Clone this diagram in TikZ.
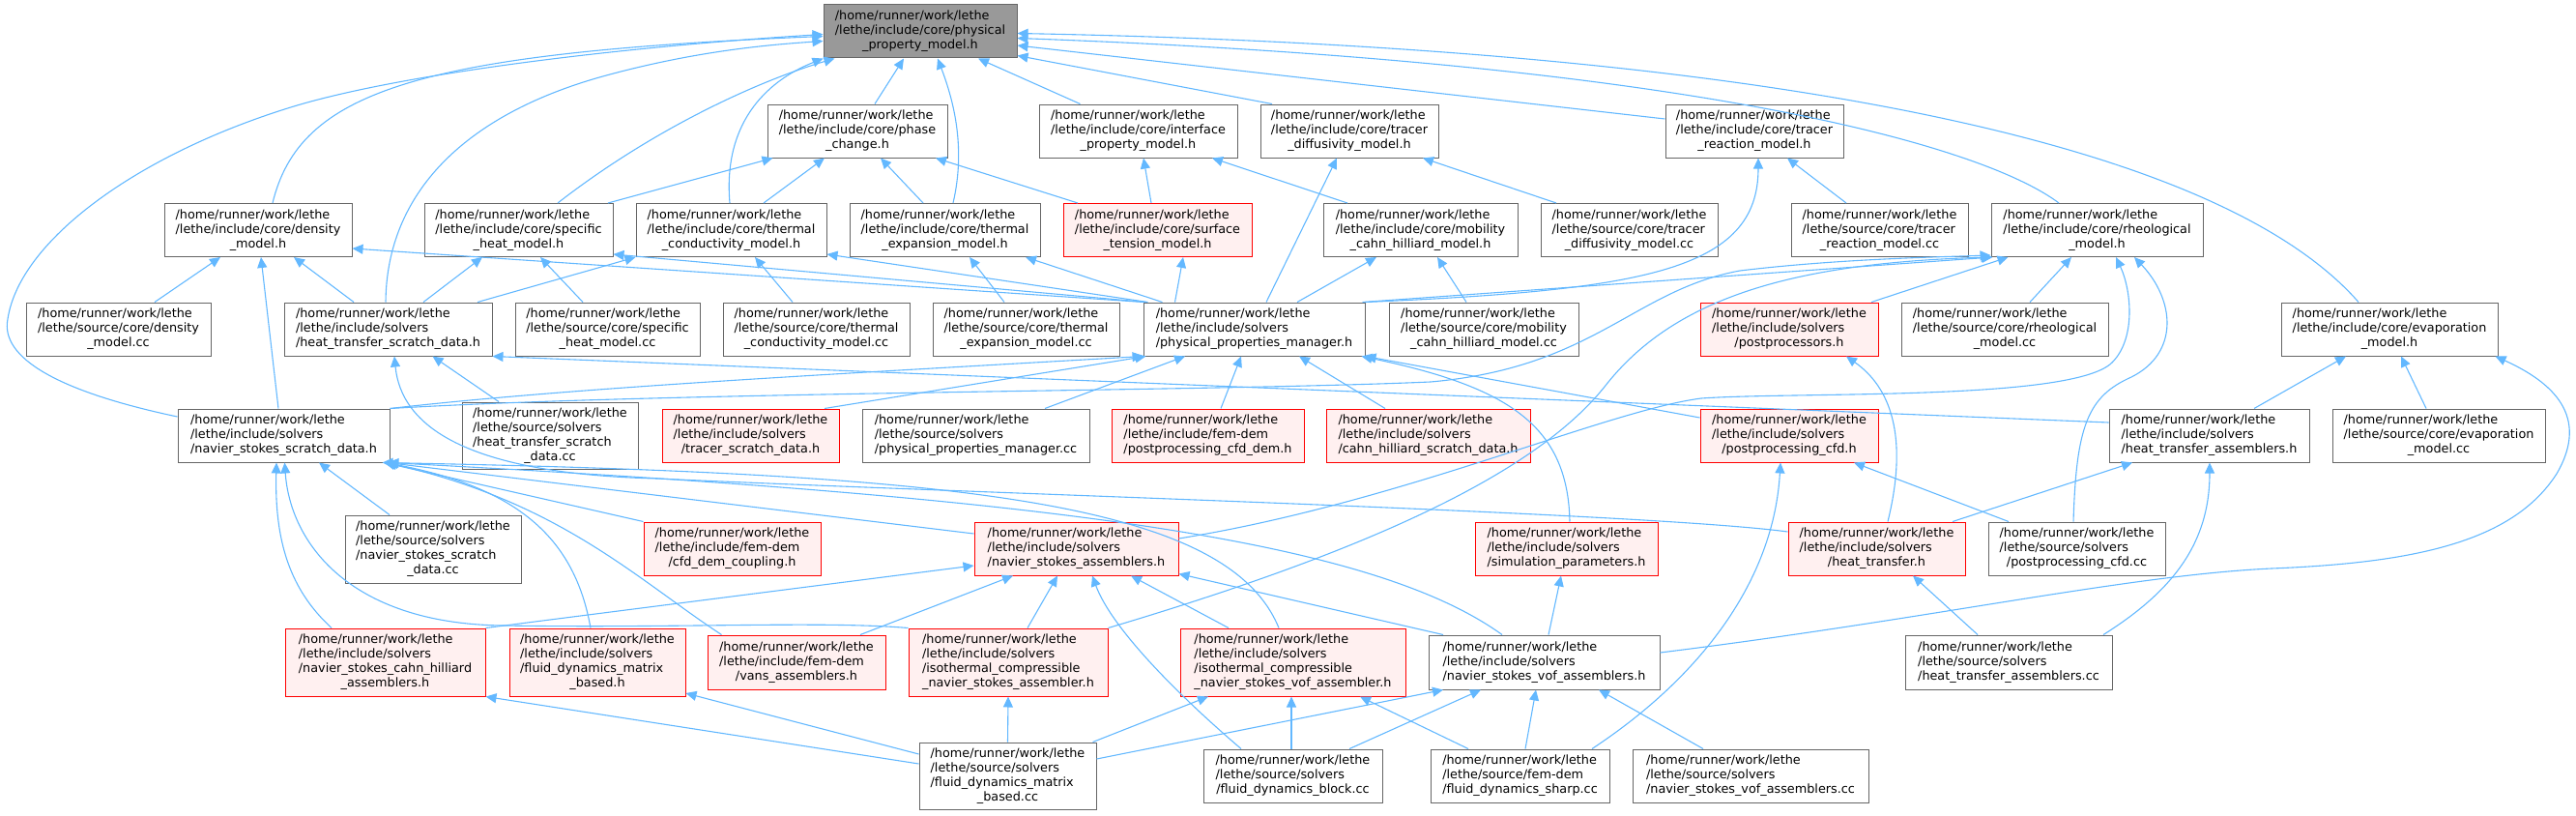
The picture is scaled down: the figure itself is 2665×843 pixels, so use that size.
\documentclass[tikz,border=0pt]{standalone}
\usepackage{fontspec}
\setmainfont{DejaVu Sans}
\usetikzlibrary{arrows.meta}

\definecolor{edgeblue}{HTML}{63B8FF}
\definecolor{boxgray}{HTML}{666666}
\definecolor{boxred}{HTML}{FF0000}
\definecolor{redfill}{HTML}{FFF0F0}
\definecolor{rootgray}{HTML}{999999}

\newcommand{\boxfont}{\fontsize{12.8}{15}\selectfont}
\newcommand{\fpath}[2]{\begin{tabular}{@{}l@{}}#1\\\multicolumn{1}{@{}c@{}}{#2}\end{tabular}}

\tikzset{
  file/.style={draw=boxgray, line width=1pt, fill=white, inner sep=0pt, font=\boxfont},
  redfile/.style={file, draw=boxred, fill=redfill},
  rootfile/.style={file, fill=rootgray},
  sz/.style 2 args={minimum width=#1, minimum height=#2},
  inc/.style={draw=edgeblue, line width=1.1pt, -{Triangle[length=11pt,width=10pt]}},
}

\begin{document}
\begin{tikzpicture}[x=1pt,y=-1pt]
\useasboundingbox (0,0) rectangle (2665,843);

\node[rootfile, sz={200}{55}] (root) at (952,32.5) {\fpath{/home/runner/work/lethe\\/lethe/include/core/physical}{\_property\_model.h}};

\node[file, sz={186}{55}] (pc) at (887,135.5) {\fpath{/home/runner/work/lethe\\/lethe/include/core/phase}{\_change.h}};
\node[file, sz={205}{55}] (ipm) at (1177.5,135.5) {\fpath{/home/runner/work/lethe\\/lethe/include/core/interface}{\_property\_model.h}};
\node[file, sz={184}{55}] (tdm) at (1396,135.5) {\fpath{/home/runner/work/lethe\\/lethe/include/core/tracer}{\_diffusivity\_model.h}};
\node[file, sz={184}{55}] (trm) at (1815,135.5) {\fpath{/home/runner/work/lethe\\/lethe/include/core/tracer}{\_reaction\_model.h}};

\node[file, sz={194}{55}] (dm) at (267,238) {\fpath{/home/runner/work/lethe\\/lethe/include/core/density}{\_model.h}};
\node[file, sz={195}{55}] (shm) at (536.5,238) {\fpath{/home/runner/work/lethe\\/lethe/include/core/specific}{\_heat\_model.h}};
\node[file, sz={197}{55}] (tcm) at (756.5,238) {\fpath{/home/runner/work/lethe\\/lethe/include/core/thermal}{\_conductivity\_model.h}};
\node[file, sz={197}{55}] (tem) at (977.5,238) {\fpath{/home/runner/work/lethe\\/lethe/include/core/thermal}{\_expansion\_model.h}};
\node[redfile, sz={195}{55}] (stm) at (1197.5,238) {\fpath{/home/runner/work/lethe\\/lethe/include/core/surface}{\_tension\_model.h}};
\node[file, sz={201}{55}] (mchm) at (1469.5,238) {\fpath{/home/runner/work/lethe\\/lethe/include/core/mobility}{\_cahn\_hilliard\_model.h}};
\node[file, sz={183}{55}] (tdmcc) at (1685.5,238) {\fpath{/home/runner/work/lethe\\/lethe/source/core/tracer}{\_diffusivity\_model.cc}};
\node[file, sz={183}{55}] (trmcc) at (1944.5,238) {\fpath{/home/runner/work/lethe\\/lethe/source/core/tracer}{\_reaction\_model.cc}};
\node[file, sz={219}{55}] (rm) at (2169.5,238) {\fpath{/home/runner/work/lethe\\/lethe/include/core/rheological}{\_model.h}};

\node[file, sz={191}{55}] (dmcc) at (122.5,340.5) {\fpath{/home/runner/work/lethe\\/lethe/source/core/density}{\_model.cc}};
\node[file, sz={215}{55}] (htsd) at (401.5,340.5) {\fpath{/home/runner/work/lethe\\/lethe/include/solvers}{/heat\_transfer\_scratch\_data.h}};
\node[file, sz={191}{55}] (shmcc) at (628.5,340.5) {\fpath{/home/runner/work/lethe\\/lethe/source/core/specific}{\_heat\_model.cc}};
\node[file, sz={193}{55}] (tcmcc) at (844.5,340.5) {\fpath{/home/runner/work/lethe\\/lethe/source/core/thermal}{\_conductivity\_model.cc}};
\node[file, sz={193}{55}] (temcc) at (1061.5,340.5) {\fpath{/home/runner/work/lethe\\/lethe/source/core/thermal}{\_expansion\_model.cc}};
\node[file, sz={229}{55}] (ppm) at (1297.5,340.5) {\fpath{/home/runner/work/lethe\\/lethe/include/solvers}{/physical\_properties\_manager.h}};
\node[file, sz={196}{55}] (mchmcc) at (1535,340.5) {\fpath{/home/runner/work/lethe\\/lethe/source/core/mobility}{\_cahn\_hilliard\_model.cc}};
\node[redfile, sz={184}{55}] (pps) at (1851,340.5) {\fpath{/home/runner/work/lethe\\/lethe/include/solvers}{/postprocessors.h}};
\node[file, sz={214}{55}] (rmcc) at (2074,340.5) {\fpath{/home/runner/work/lethe\\/lethe/source/core/rheological}{\_model.cc}};
\node[file, sz={224}{55}] (em) at (2472,340.5) {\fpath{/home/runner/work/lethe\\/lethe/include/core/evaporation}{\_model.h}};

\node[file, sz={219}{55}] (nssd) at (293.5,450.5) {\fpath{/home/runner/work/lethe\\/lethe/include/solvers}{/navier\_stokes\_scratch\_data.h}};
\node[file, sz={182}{69}] (htsdcc) at (569,450.5) {\fpath{/home/runner/work/lethe\\/lethe/source/solvers\\/heat\_transfer\_scratch}{\_data.cc}};
\node[redfile, sz={183}{55}] (tsd) at (776.5,450.5) {\fpath{/home/runner/work/lethe\\/lethe/include/solvers}{/tracer\_scratch\_data.h}};
\node[file, sz={235}{55}] (ppmcc) at (1009.5,450.5) {\fpath{/home/runner/work/lethe\\/lethe/source/solvers}{/physical\_properties\_manager.cc}};
\node[redfile, sz={199}{55}] (pcd) at (1249.5,450.5) {\fpath{/home/runner/work/lethe\\/lethe/include/fem-dem}{/postprocessing\_cfd\_dem.h}};
\node[redfile, sz={211}{55}] (chsd) at (1477.5,450.5) {\fpath{/home/runner/work/lethe\\/lethe/include/solvers}{/cahn\_hilliard\_scratch\_data.h}};
\node[redfile, sz={184}{55}] (pcfd) at (1851,450.5) {\fpath{/home/runner/work/lethe\\/lethe/include/solvers}{/postprocessing\_cfd.h}};
\node[file, sz={207}{55}] (htah) at (2285.5,450.5) {\fpath{/home/runner/work/lethe\\/lethe/include/solvers}{/heat\_transfer\_assemblers.h}};
\node[file, sz={220}{55}] (emcc) at (2523,450.5) {\fpath{/home/runner/work/lethe\\/lethe/source/core/evaporation}{\_model.cc}};

\node[file, sz={182}{70}] (nssdcc) at (448,568) {\fpath{/home/runner/work/lethe\\/lethe/source/solvers\\/navier\_stokes\_scratch}{\_data.cc}};
\node[redfile, sz={183}{55}] (cdc) at (757.5,567.5) {\fpath{/home/runner/work/lethe\\/lethe/include/fem-dem}{/cfd\_dem\_coupling.h}};
\node[redfile, sz={211}{55}] (nsa) at (1113.5,567.5) {\fpath{/home/runner/work/lethe\\/lethe/include/solvers}{/navier\_stokes\_assemblers.h}};
\node[redfile, sz={189}{55}] (sp) at (1620.5,567.5) {\fpath{/home/runner/work/lethe\\/lethe/include/solvers}{/simulation\_parameters.h}};
\node[redfile, sz={183}{55}] (ht) at (1941.5,567.5) {\fpath{/home/runner/work/lethe\\/lethe/include/solvers}{/heat\_transfer.h}};
\node[file, sz={183}{55}] (pcfdcc) at (2148.5,567.5) {\fpath{/home/runner/work/lethe\\/lethe/source/solvers}{/postprocessing\_cfd.cc}};

\node[redfile, sz={207}{70}] (nscha) at (398.5,685) {\fpath{/home/runner/work/lethe\\/lethe/include/solvers\\/navier\_stokes\_cahn\_hilliard}{\_assemblers.h}};
\node[redfile, sz={182}{70}] (fdmb) at (618,685) {\fpath{/home/runner/work/lethe\\/lethe/include/solvers\\/fluid\_dynamics\_matrix}{\_based.h}};
\node[redfile, sz={184}{56}] (vans) at (824,685) {\fpath{/home/runner/work/lethe\\/lethe/include/fem-dem}{/vans\_assemblers.h}};
\node[redfile, sz={206}{70}] (icnsa) at (1043,685) {\fpath{/home/runner/work/lethe\\/lethe/include/solvers\\/isothermal\_compressible}{\_navier\_stokes\_assembler.h}};
\node[redfile, sz={233}{70}] (icnsva) at (1337.5,685) {\fpath{/home/runner/work/lethe\\/lethe/include/solvers\\/isothermal\_compressible}{\_navier\_stokes\_vof\_assembler.h}};
\node[file, sz={239}{56}] (nsvofa) at (1597.5,685) {\fpath{/home/runner/work/lethe\\/lethe/include/solvers}{/navier\_stokes\_vof\_assemblers.h}};
\node[file, sz={214}{56}] (htacc) at (2078,685) {\fpath{/home/runner/work/lethe\\/lethe/source/solvers}{/heat\_transfer\_assemblers.cc}};

\node[file, sz={183}{69}] (fdmbcc) at (1042.5,802.5) {\fpath{/home/runner/work/lethe\\/lethe/source/solvers\\/fluid\_dynamics\_matrix}{\_based.cc}};
\node[file, sz={185}{55}] (fdbcc) at (1337.5,802.5) {\fpath{/home/runner/work/lethe\\/lethe/source/solvers}{/fluid\_dynamics\_block.cc}};
\node[file, sz={185}{55}] (fdscc) at (1572.5,802.5) {\fpath{/home/runner/work/lethe\\/lethe/source/fem-dem}{/fluid\_dynamics\_sharp.cc}};
\node[file, sz={244}{55}] (nsvofacc) at (1811,802.5) {\fpath{/home/runner/work/lethe\\/lethe/source/solvers}{/navier\_stokes\_vof\_assemblers.cc}};

\draw[inc] ([xshift=15]dm.north) .. controls (310,95) and (430,55) .. ([yshift=-5]root.west);
\draw[inc] ([yshift=19.5]nssd.west) .. controls (60,405) and (0,370) .. (8,330) .. controls (20,250) and (140,160) .. (304,110) .. controls (420,75) and (650,48) .. ([yshift=-3]root.west);
\draw[inc] ([xshift=-2.5]htsd.north) .. controls (400,200) and (480,120) .. (620,80) .. controls (720,52) and (800,46) .. ([yshift=-10]root.west);
\draw[inc] ([xshift=40.5]shm.north) .. controls (680,130) and (790,82) .. ([xshift=12]root.south west);
\draw[inc] ([xshift=-1.5]tcm.north) .. controls (748,130) and (790,85) .. (root.south west);
\draw[inc] ([xshift=18]pc.north) -- ([xshift=-17]root.south);
\draw[inc] ([xshift=8.5]tem.north) .. controls (1000,150) and (985,100) .. ([xshift=18]root.south);
\draw[inc] ([xshift=-60]ipm.north) -- ([xshift=60]root.south);
\draw[inc] ([xshift=-80]tdm.north) -- ([yshift=3]root.south east);
\draw[inc] ([yshift=12.5]trm.west) -- ([yshift=-14.5]root.east);
\draw[inc] ([xshift=-39.5]rm.north) .. controls (2050,150) and (1750,65) .. ([yshift=-7]root.east);
\draw[inc] ([xshift=-32]em.north) .. controls (2280,130) and (1750,48) .. ([yshift=-2]root.east);

\draw[inc] ([xshift=92.5]shm.north) -- ([xshift=6]pc.south west);
\draw[inc] ([xshift=33.5]tcm.north) -- ([xshift=-34]pc.south);
\draw[inc] ([xshift=-22.5]tem.north) -- ([xshift=24]pc.south);
\draw[inc] ([xshift=-82.5]stm.north) -- ([xshift=81]pc.south);
\draw[inc] ([xshift=-6.5]stm.north) -- ([xshift=5.5]ipm.south);
\draw[inc] ([xshift=-75.5]mchm.north) -- ([xshift=76.5]ipm.south);
\draw[inc] ([xshift=12.5]ppm.north) -- ([xshift=-13]tdm.south);
\draw[inc] ([xshift=-75.5]tdmcc.north) -- ([xshift=76]tdm.south);
\draw[inc] ([xshift=-34.5]trmcc.north) -- ([xshift=34]trm.south);
\draw[inc] (ppm.north east) .. controls (1700,300) and (1819,280) .. ([xshift=4]trm.south);

\draw[inc] ([xshift=37.5]dmcc.north) -- ([xshift=-39]dm.south);
\draw[inc] ([xshift=-5.5]nssd.north) -- ([xshift=3]dm.south);
\draw[inc] ([xshift=-35.5]htsd.north) -- ([xshift=37]dm.south);
\draw[inc] ([xshift=-114]ppm.north) -- ([yshift=-19]dm.east);
\draw[inc] ([xshift=36.5]htsd.north) -- ([xshift=-37.5]shm.south);
\draw[inc] ([xshift=-25.5]shmcc.north) -- ([xshift=22.5]shm.south);
\draw[inc] ([xshift=-112]ppm.north) -- ([yshift=-25]shm.east);
\draw[inc] ([xshift=92.5]htsd.north) -- (tcm.south west);
\draw[inc] ([xshift=-24.5]tcmcc.north) -- ([xshift=24.5]tcm.south);
\draw[inc] ([xshift=-110]ppm.north) -- ([yshift=-25]tcm.east);
\draw[inc] ([xshift=-22.5]temcc.north) -- ([xshift=25.5]tem.south);
\draw[inc] ([xshift=-95]ppm.north) -- ([xshift=83.5]tem.south);
\draw[inc] ([xshift=-82]ppm.north) -- ([xshift=26.5]stm.south);
\draw[inc] ([xshift=44.5]ppm.north) -- ([xshift=-45.5]mchm.south);
\draw[inc] ([xshift=-18]mchmcc.north) -- ([xshift=17.5]mchm.south);

\draw[inc] ([xshift=26]rmcc.north) -- ([xshift=-26.5]rm.south);
\draw[inc] ([xshift=85]pps.north) -- ([xshift=18]rm.south west);
\draw[inc] ([xshift=-3]ppm.north east) -- ([xshift=2]rm.south west);
\draw[inc] (nssd.north east) .. controls (700,405) and (1250,405) .. (1480,395) .. controls (1650,380) and (1690,300) .. (1800,280) .. controls (1900,268) and (2000,266) .. ([yshift=2]rm.south west);
\draw[inc] (icnsa.north east) .. controls (1380,580) and (1580,500) .. (1660,400) .. controls (1730,310) and (1850,272) .. ([xshift=1]rm.south west);
\draw[inc] ([yshift=10.5]nsa.east) .. controls (1450,520) and (1660,425) .. (1760,412) .. controls (1860,405) and (2145,415) .. (2185,375) .. controls (2210,350) and (2205,300) .. ([xshift=19.5]rm.south);
\draw[inc] ([xshift=-3.5]pcfdcc.north) .. controls (2148,440) and (2160,410) .. (2205,390) .. controls (2255,365) and (2250,310) .. ([xshift=38.5]rm.south);

\draw[inc] ([xshift=46.5]htah.north) -- ([xshift=-45]em.south);
\draw[inc] ([xshift=-13]emcc.north) -- ([xshift=12]em.south);
\draw[inc] ([yshift=10]nsvofa.east) .. controls (2000,640) and (2200,595) .. (2350,588) .. controls (2500,582) and (2600,560) .. (2645,490) .. controls (2680,430) and (2640,395) .. ([xshift=-3]em.south east);

\draw[inc] ([xshift=78.5]ht.north) -- ([xshift=-79.5]htah.south);
\draw[inc] ([xshift=98]htacc.north) .. controls (2250,610) and (2286,560) .. ([xshift=0.5]htah.south);
\draw[inc] ([yshift=13.5]htah.west) -- (htsd.south east);
\draw[inc] ([xshift=-53]htsdcc.north) -- ([xshift=46]htsd.south);
\draw[inc] ([yshift=17.5]ht.west) .. controls (1700,530) and (1000,510) .. (680,495) .. controls (480,490) and (415,440) .. ([xshift=6.5]htsd.south);
\draw[inc] ([xshift=-32]htacc.north) -- ([xshift=37.5]ht.south);
\draw[inc] ([xshift=11.5]ht.north) .. controls (1975,450) and (1955,400) .. ([xshift=59]pps.south);

\draw[inc] ([xshift=74.5]fdscc.north) .. controls (1760,700) and (1835,600) .. ([xshift=-9]pcfd.south);
\draw[inc] ([xshift=-70.5]pcfdcc.north) -- ([xshift=67]pcfd.south);
\draw[inc] ([yshift=18.5]pcfd.west) -- (ppm.south east);
\draw[inc] ([xshift=3.5]sp.north) .. controls (1622,440) and (1560,400) .. ([xshift=-4]ppm.south east);
\draw[inc] (nssd.north east) .. controls (600,400) and (900,385) .. (ppm.south west);
\draw[inc] ([xshift=76.5]tsd.north) -- ([xshift=3]ppm.south west);
\draw[inc] ([xshift=71.5]ppmcc.north) -- ([xshift=-71.5]ppm.south);
\draw[inc] ([xshift=13.5]pcd.north) -- ([xshift=-13.5]ppm.south);
\draw[inc] ([xshift=-44.5]chsd.north) -- ([xshift=46.5]ppm.south);
\draw[inc] ([xshift=4.5]nsvofa.north) -- ([xshift=-5.5]sp.south);

\draw[inc] ([xshift=-45]nssdcc.north) -- ([xshift=36.5]nssd.south);
\draw[inc] ([xshift=-55.5]nscha.north) .. controls (300,610) and (284,560) .. ([xshift=-7.5]nssd.south);
\draw[inc] (icnsa.north west) .. controls (850,642) and (700,650) .. (520,647) .. controls (360,645) and (300,560) .. ([xshift=1]nssd.south);
\draw[inc] ([xshift=-7]fdmb.north) .. controls (595,560) and (540,505) .. ([xshift=-5]nssd.south east);
\draw[inc] ([xshift=15]vans.north west) .. controls (660,600) and (580,520) .. ([xshift=-4]nssd.south east);
\draw[inc] (cdc.north west) -- ([xshift=-6]nssd.south east);
\draw[inc] ([yshift=15.5]nsa.west) -- ([xshift=-3]nssd.south east);
\draw[inc] ([xshift=-14.5]icnsva.north) .. controls (1270,520) and (1000,490) .. ([xshift=-8]nssd.south east);
\draw[inc] ([xshift=-43.5]nsvofa.north) .. controls (1420,560) and (1100,515) .. ([xshift=-2]nssd.south east);

\draw[inc] (nscha.north east) -- ([yshift=-17.5]nsa.west);
\draw[inc] ([xshift=66]vans.north) -- ([xshift=-65.5]nsa.south);
\draw[inc] ([xshift=20]icnsa.north) -- ([xshift=-19.5]nsa.south);
\draw[inc] ([xshift=-53.5]fdbcc.north) .. controls (1220,720) and (1150,650) .. ([xshift=16.5]nsa.south);
\draw[inc] ([xshift=-66.5]icnsva.north) -- ([xshift=56.5]nsa.south);
\draw[inc] ([xshift=-104.5]nsvofa.north) -- ([yshift=2]nsa.south east);

\draw[inc] ([yshift=17.5]fdmbcc.east) -- ([xshift=-104.5]nsvofa.south);
\draw[inc] ([xshift=58.5]fdbcc.north) -- ([xshift=-65.5]nsvofa.south);
\draw[inc] ([xshift=5.5]fdscc.north) -- ([xshift=-8.5]nsvofa.south);
\draw[inc] ([xshift=-49]nsvofacc.north) -- ([xshift=56.5]nsvofa.south);
\draw[inc] (fdmbcc.north) -- (icnsa.south);
\draw[inc] ([xshift=88]fdmbcc.north) -- ([xshift=-87.5]icnsva.south);
\draw[inc] ([xshift=-1.5]fdbcc.north) -- ([xshift=-1.5]icnsva.south);
\draw[inc] ([xshift=-53.5]fdscc.north) -- ([xshift=69.5]icnsva.south);
\draw[inc] ([yshift=22.5]fdmbcc.west) -- ([yshift=-32]fdmb.east);
\draw[inc] ([yshift=12.5]fdmbcc.west) -- (nscha.south east);
\end{tikzpicture}
\end{document}
